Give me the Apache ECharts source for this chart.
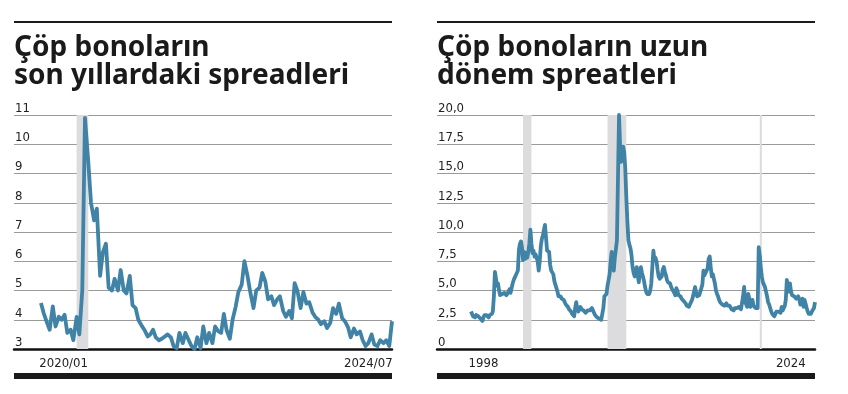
<!DOCTYPE html>
<html><head><meta charset="utf-8">
<script src="https://cdn.jsdelivr.net/npm/echarts@6/dist/echarts.min.js"></script>
<style>html,body{margin:0;padding:0;background:#fff}#c{width:848px;height:394px}</style>
</head><body><div id="c"></div>
<script>
// ---------- data ----------
const leftTitle = 'Çöp bonoların\nson yıllardaki spreadleri';
const rightTitle = 'Çöp bonoların uzun\ndönem spreatleri';

// left chart: half-month observations starting 2019/08/01 (1st and 15th of each month)
const leftStart = [2019, 8];
const leftValues = [
  4.57,4.23,3.9,3.66,4.46,3.77,4.1,4.0,4.17,3.55,
  3.66,3.3,4.1,3.5,5.0,10.9,9.4,8.0,7.4,7.8,
  5.5,6.3,6.6,5.1,5.0,5.4,5.0,5.7,5.0,4.9,
  5.5,4.5,4.4,4.0,3.8,3.66,3.43,3.5,3.66,3.4,
  3.3,3.35,3.43,3.5,3.4,3.1,3.03,3.55,3.2,3.55,
  3.3,3.1,3.0,3.4,3.03,3.77,3.2,3.55,3.2,3.77,
  3.6,3.55,4.2,3.65,3.35,4.0,4.45,4.95,5.2,6.0,
  5.5,4.95,4.4,5.0,5.1,5.6,5.3,4.7,4.8,4.5,
  4.7,4.8,4.3,4.1,4.3,4.05,5.25,5.0,4.4,4.95,
  4.55,4.6,4.25,4.1,4.0,3.85,3.95,3.72,3.9,4.4,
  4.2,4.55,4.05,3.95,3.75,3.4,3.7,3.5,3.6,3.3,
  3.1,3.2,3.5,3.15,3.1,3.3,3.2,3.3,3.1,3.95
];
const leftYTicks = ['3','4','5','6','7','8','9','10','11'];
const leftXTickDates = ['2020-01-01', '2024-07-01'];
const leftXTickLabels = ['2020/01', '2024/07'];
const leftBand = ['2020-02-01', '2020-04-01'];

// right chart: monthly observations starting 1997/01
const rightStart = [1997, 1];
const rightValues = [
  3.2,3.0,2.8,2.9,2.7,2.9,3.0,2.8,2.7,2.6,2.5,2.4,
  2.7,2.9,2.8,2.9,2.8,2.7,2.9,2.8,3.0,3.2,4.5,6.6,
  6.0,5.4,5.6,5.0,4.6,4.6,4.7,4.6,4.8,4.9,4.6,4.7,
  4.9,5.1,4.8,5.2,5.6,5.9,6.1,6.3,6.5,6.7,8.5,9.0,
  9.2,8.6,7.6,8.3,7.7,8.2,7.8,8.3,9.0,10.2,9.0,8.2,
  8.4,7.9,8.1,8.2,7.5,6.7,7.5,8.8,9.4,9.7,10.2,10.6,
  9.5,8.4,8.5,8.3,7.2,6.7,6.6,6.4,5.8,5.5,5.2,4.9,
  4.5,4.4,4.5,4.3,4.4,4.2,4.0,3.8,3.9,3.6,3.4,3.3,
  3.2,3.0,2.9,2.8,3.5,4.0,3.4,3.2,3.3,3.6,3.4,3.3,
  3.3,3.2,3.1,3.2,3.3,3.2,3.3,3.4,3.5,3.4,3.1,2.9,
  2.8,2.7,2.6,2.6,2.5,2.5,2.4,3.5,4.5,4.4,4.7,5.4,
  5.9,6.4,7.5,8.3,7.2,6.7,7.8,8.5,9.3,14.5,20.0,17.5,
  16.0,16.5,17.3,16.8,15.5,13.0,11.0,9.3,8.9,8.6,8.0,7.0,
  6.5,6.2,6.6,7.0,6.3,5.7,6.5,7.0,6.5,6.2,5.8,5.3,
  4.9,4.7,4.7,4.7,5.0,5.6,7.0,8.4,7.6,7.8,7.5,6.8,
  6.2,6.0,6.1,6.2,6.8,7.0,6.6,6.3,5.9,5.7,5.6,5.6,
  5.3,5.1,5.0,4.8,4.6,5.2,5.0,4.6,4.7,4.5,4.3,4.2,
  4.1,4.0,3.9,3.7,3.7,3.6,3.8,4.0,4.2,4.5,4.4,5.3,
  4.8,4.5,4.4,4.6,4.9,4.9,5.5,6.7,6.3,6.2,6.7,6.9,
  7.7,7.9,7.0,6.2,6.4,6.5,5.6,5.0,4.7,4.5,4.2,4.0,
  3.9,3.8,3.8,3.7,3.8,3.9,3.7,3.6,3.7,3.6,3.4,3.3,
  3.3,3.5,3.6,3.5,3.6,3.6,3.5,3.4,3.3,4.5,5.3,4.0,
  3.8,3.6,4.7,4.3,3.6,3.9,4.2,3.7,3.6,3.5,3.5,3.5,
  8.7,8.0,7.0,6.2,5.7,5.5,5.3,4.9,4.5,4.0,3.8,3.5,
  3.2,3.0,2.9,2.8,3.0,3.2,3.1,3.2,3.3,3.1,3.6,3.3,
  3.3,3.7,4.2,5.9,5.4,4.9,5.6,4.9,4.6,4.7,4.5,4.6,
  4.3,4.4,4.5,4.2,3.8,4.1,4.3,3.6,4.2,4.3,3.5,3.2,
  3.0,3.1,3.0,3.2,3.3,3.5,4.0
];
const rightYTicks = ['0','2,5','5,0','7,5','10,0','12,5','15,0','17,5','20,0'];
const rightXTickDates = ['1998-01-01', '2024-01-01'];
const rightXTickLabels = ['1998', '2024'];
const rightBands = [['2001-03-01','2001-11-01'], ['2007-12-01','2009-06-01'], ['2020-02-01','2020-04-01']];

// ---------- build ----------
function ts(s){ const p = s.split('-').map(Number); return Date.UTC(p[0], p[1]-1, p[2]); }
function halfMonthSeries(start, vals){
  return vals.map((v,i)=>{
    const mi = start[1]-1 + Math.floor(i/2);
    const y = start[0] + Math.floor(mi/12), m = mi%12;
    return [Date.UTC(y, m, i%2 ? 15 : 1), v];
  });
}
function monthSeries(start, vals){
  return vals.map((v,i)=>{
    const mi = start[1]-1 + i;
    return [Date.UTC(start[0] + Math.floor(mi/12), mi%12, 1), v];
  });
}
const NARROW = '"DejaVu Sans Condensed","Roboto",sans-serif';
const LFS = 13;
const TITLEF = '"Noto Sans","Open Sans",sans-serif';
const LINE = '#4083a6';
const BAND = '#dcdcdf';
const INK = '#1a1a1a';

function xAxisCfg(grid, min, max, tickDates, tickLabels, pads){
  const rich = {};
  tickLabels.forEach((t,i)=>{ rich['l'+i] = {fontFamily:NARROW, fontSize:LFS, color:'#222', padding:[0, pads[i], 0, 0]}; });
  const tv = tickDates.map(ts);
  return {
    type:'value', gridIndex:grid, min:ts(min), max:ts(max), scale:true,
    axisLine:{show:true, onZero:false, lineStyle:{color:'#111', width:2.5}},
    axisTick:{show:false}, splitLine:{show:false},
    axisLabel:{
      customValues: tv,
      margin:8, fontFamily:NARROW, fontSize:LFS, color:'#222',
      formatter:(v)=>{ let k=0, best=Infinity; tv.forEach((x,i)=>{ if(Math.abs(x-v)<best){best=Math.abs(x-v);k=i;} }); return '{l'+k+'|'+tickLabels[k]+'}'; },
      rich
    }
  };
}
function yAxisCfg(grid, min, max, interval, labels){
  return {
    type:'value', gridIndex:grid, min, max, interval,
    axisLine:{show:false}, axisTick:{show:false},
    splitLine:{show:true, lineStyle:{color:'#9a9a9a', width:1}},
    axisLabel:{inside:true, verticalAlign:'bottom', margin:1, fontFamily:NARROW, fontSize:LFS, color:'#222',
      formatter:(v)=> labels[Math.round((v-min)/interval)] }
  };
}

const chart = echarts.init(document.getElementById('c'), null, {renderer:'canvas'});
chart.setOption({
  animation:false,
  backgroundColor:'#fff',
  title:[
    {text:leftTitle, left:14, top:34, padding:0, textStyle:{fontFamily:TITLEF, fontWeight:'bold', fontSize:28, lineHeight:28, color:INK}},
    {text:rightTitle, left:437, top:34, padding:0, textStyle:{fontFamily:TITLEF, fontWeight:'bold', fontSize:28, lineHeight:28, color:INK}}
  ],
  grid:[
    {left:14, top:115, width:378, height:234, containLabel:false},
    {left:437, top:115, width:378, height:234, containLabel:false}
  ],
  xAxis:[
    xAxisCfg(0, '2019-03-15', '2024-07-15', leftXTickDates, leftXTickLabels, [14, 42]),
    xAxisCfg(1, '1994-04-15', '2024-07-01', rightXTickDates, rightXTickLabels, [0, 36])
  ],
  yAxis:[
    yAxisCfg(0, 3, 11, 1, leftYTicks),
    yAxisCfg(1, 0, 20, 2.5, rightYTicks)
  ],
  series:[
    {type:'line', xAxisIndex:0, yAxisIndex:0, data:[], z:1, silent:true,
      markArea:{silent:true, itemStyle:{color:BAND}, data:[[{xAxis:ts(leftBand[0])},{xAxis:ts(leftBand[1])}]]}},
    {type:'line', xAxisIndex:1, yAxisIndex:1, data:[], z:1, silent:true,
      markArea:{silent:true, itemStyle:{color:BAND}, data:rightBands.map(b=>[{xAxis:ts(b[0])},{xAxis:ts(b[1])}])}},
    {type:'line', xAxisIndex:0, yAxisIndex:0, z:3, data:halfMonthSeries(leftStart, leftValues),
      showSymbol:false, lineStyle:{color:LINE, width:3.8, join:'round'}},
    {type:'line', xAxisIndex:1, yAxisIndex:1, z:3, data:monthSeries(rightStart, rightValues),
      showSymbol:false, lineStyle:{color:LINE, width:3.8, join:'round'}}
  ],
  graphic:[
    {type:'rect', shape:{x:14, y:21, width:378, height:2}, style:{fill:INK}},
    {type:'rect', shape:{x:437, y:21, width:378, height:2}, style:{fill:INK}},
    {type:'rect', shape:{x:14, y:373, width:378, height:6}, style:{fill:INK}},
    {type:'rect', shape:{x:437, y:373, width:378, height:6}, style:{fill:INK}}
  ]
});
</script></body></html>
